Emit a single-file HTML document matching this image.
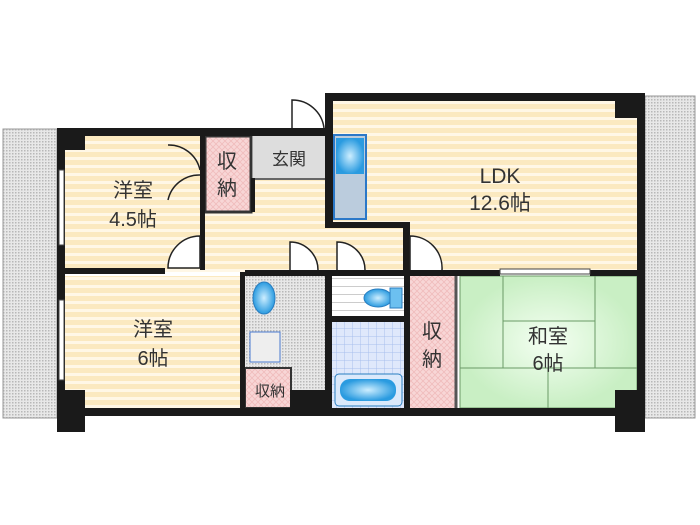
<!DOCTYPE html>
<html><head><meta charset="utf-8"><style>
html,body{margin:0;padding:0;background:#fff;width:700px;height:525px;overflow:hidden}
svg text{font-family:"Liberation Sans","Noto Sans CJK JP",sans-serif;fill:#333}
</style></head><body>
<svg width="700" height="525" viewBox="0 0 700 525" xmlns="http://www.w3.org/2000/svg">
<defs>
<pattern id="st" width="8" height="8" patternUnits="userSpaceOnUse"><rect width="8" height="8" fill="#fbe9c0"/><rect y="5" width="8" height="3" fill="#fff7e6"/></pattern>
<pattern id="dot" width="3" height="3" patternUnits="userSpaceOnUse"><rect width="3" height="3" fill="#e8e8e8"/><rect width="1.5" height="1.5" fill="#b8b8b8"/></pattern>
<pattern id="pk" width="6" height="6" patternUnits="userSpaceOnUse"><rect width="6" height="6" fill="#f8d6d6"/><path d="M0 0L6 6M6 0L0 6" stroke="#f0bcbc" stroke-width="0.8"/></pattern>
<pattern id="tile" width="8" height="8" patternUnits="userSpaceOnUse"><rect width="8" height="8" fill="#dfe8fb"/><path d="M0 0H8M0 0V8" stroke="#a9bfee" stroke-width="1"/></pattern>
<pattern id="ws" width="8" height="8" patternUnits="userSpaceOnUse"><rect width="8" height="8" fill="#fff"/><rect y="6" width="8" height="1" fill="#ccc"/></pattern>
<radialGradient id="gr"><stop offset="0" stop-color="#f4fff2"/><stop offset="1" stop-color="#c9efc4"/></radialGradient>
<radialGradient id="bl"><stop offset="0" stop-color="#cdeeff"/><stop offset="1" stop-color="#2a9be0"/></radialGradient>
</defs>
<!-- balconies -->
<rect x="3" y="129" width="54" height="289" fill="url(#dot)" stroke="#999"/>
<rect x="645" y="96" width="50" height="322" fill="url(#dot)" stroke="#999"/>
<!-- floors -->
<rect x="65" y="136" width="140" height="136" fill="url(#st)"/>
<rect x="200" y="178" width="135" height="94" fill="url(#st)"/>
<rect x="333" y="100" width="304" height="172" fill="url(#st)"/>
<rect x="65" y="276" width="176" height="132" fill="url(#st)"/>
<rect x="205" y="136" width="46" height="76" fill="url(#pk)" stroke="#333" stroke-width="3"/>
<rect x="253" y="136" width="72" height="42" fill="#ddd"/>
<line x1="253" y1="179" x2="325" y2="179" stroke="#666" stroke-width="2"/>
<rect x="334" y="135" width="32" height="84" fill="#bcd" stroke="#2b78c8" stroke-width="2"/>
<rect x="336" y="138" width="28" height="36" fill="url(#bl)"/>
<rect x="245" y="276" width="80" height="124" fill="url(#dot)"/>
<ellipse cx="264" cy="298" rx="11" ry="16" fill="url(#bl)" stroke="#2a7ec0"/>
<rect x="250" y="332" width="30" height="30" fill="#eee" stroke="#4a7ad0"/>
<rect x="245" y="368" width="46" height="40" fill="url(#pk)" stroke="#333" stroke-width="2"/>
<rect x="332" y="278" width="72" height="38" fill="url(#ws)"/>
<ellipse cx="378" cy="298" rx="14" ry="9" fill="url(#bl)" stroke="#2a7ec0"/>
<rect x="390" y="288" width="12" height="20" fill="#6cc0f0" stroke="#2a7ec0"/>
<rect x="332" y="322" width="72" height="86" fill="url(#tile)"/>
<rect x="335" y="374" width="67" height="32" rx="4" fill="#dbe9fb" stroke="#2a7ec0"/>
<rect x="340" y="379" width="56" height="22" rx="10" fill="url(#bl)"/>
<rect x="410" y="276" width="46" height="132" fill="url(#pk)"/>
<rect x="460" y="276" width="177" height="132" fill="url(#gr)"/>
<g stroke="#6a9a66" stroke-width="1" fill="none">
<rect x="460" y="276" width="177" height="132"/>
<line x1="503" y1="276" x2="503" y2="368"/><line x1="595" y1="276" x2="595" y2="368"/>
<line x1="503" y1="321" x2="595" y2="321"/><line x1="460" y1="368" x2="637" y2="368"/>
<line x1="548" y1="368" x2="548" y2="408"/>
</g>
<line x1="456" y1="276" x2="456" y2="408" stroke="#555" stroke-width="3"/>
<!-- walls -->
<g fill="#1a1a1a">
<rect x="57" y="128" width="273" height="8"/>
<rect x="325" y="93" width="320" height="8"/>
<rect x="637" y="93" width="8" height="325"/>
<rect x="57" y="408" width="588" height="8"/>
<rect x="57" y="128" width="8" height="288"/>
<rect x="57" y="128" width="28" height="22"/>
<rect x="57" y="390" width="28" height="42"/>
<rect x="615" y="93" width="30" height="25"/>
<rect x="615" y="390" width="30" height="42"/>
<rect x="325" y="93" width="8" height="135"/>
<rect x="325" y="222" width="85" height="6"/>
<rect x="403" y="222" width="7" height="50"/>
<rect x="65" y="268" width="100" height="6"/>
<rect x="200" y="136" width="5" height="134"/>
<rect x="240" y="272" width="5" height="136"/>
<rect x="245" y="270" width="165" height="6"/>
<rect x="410" y="270" width="90" height="6"/>
<rect x="590" y="270" width="47" height="6"/>
<rect x="325" y="276" width="7" height="132"/>
<rect x="332" y="316" width="72" height="6"/>
<rect x="404" y="272" width="6" height="136"/>
<rect x="290" y="390" width="35" height="18"/>
<rect x="251" y="178" width="4" height="34"/>
</g>
<!-- windows -->
<g fill="#fff" stroke="#444">
<rect x="59" y="170" width="5" height="75"/><rect x="59" y="300" width="5" height="80"/>
<rect x="500" y="269" width="90" height="5"/>
</g>
<!-- doors -->
<g fill="#fff" stroke="#222" stroke-width="1.5">
<path d="M292 128V100A32 32 0 0 1 324 128" />
<path d="M168 145A32 32 0 0 1 200 170" fill="none"/><path d="M168 200A32 32 0 0 1 200 175" fill="none"/>
<path d="M168 268A32 32 0 0 1 200 236V268Z"/>
<path d="M290 270V242A28 28 0 0 1 318 270"/>
<path d="M337 270V242A28 28 0 0 1 365 270"/>
<path d="M410 270V236A32 32 0 0 1 442 270"/>
</g>
<!-- labels -->
<g font-size="20" text-anchor="middle">
<text x="133" y="197">洋室</text><text x="133" y="226">4.5帖</text>
<text x="153" y="336">洋室</text><text x="153" y="365">6帖</text>
<text x="500" y="183" font-size="21">LDK</text><text x="500" y="210" font-size="21">12.6帖</text>
<text x="548" y="343">和室</text><text x="548" y="370">6帖</text>
<text x="227" y="168">収</text><text x="227" y="195">納</text>
<text x="432" y="338">収</text><text x="432" y="366">納</text>
<text x="289" y="165" font-size="17">玄関</text>
<text x="270" y="396" font-size="15">収納</text>
</g>
</svg>
</body></html>
